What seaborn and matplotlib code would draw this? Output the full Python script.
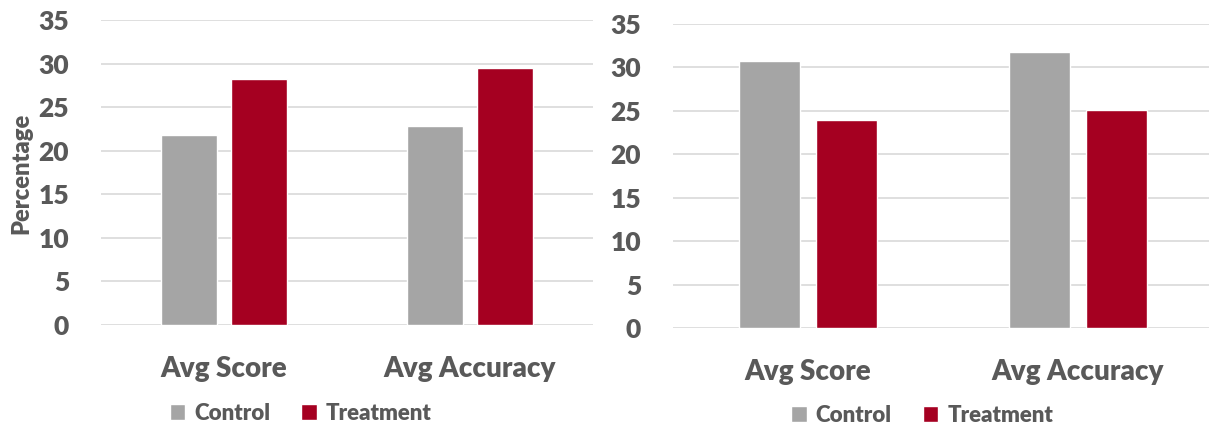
import pandas as pd
import matplotlib.pyplot as plt
import seaborn as sns

# Chart data
categories = ['Avg Score', 'Avg Accuracy']
groups = ['Control', 'Treatment']
left_control = [21.8, 22.8]
left_treatment = [28.2, 29.5]
right_control = [30.7, 31.8]
right_treatment = [23.9, 25.1]
y_ticks = [0, 5, 10, 15, 20, 25, 30, 35]

palette = {'Control': '#a5a5a5', 'Treatment': '#a50021'}
text_color = '#595959'
font_name = 'Lato'
weight = 'heavy'


def make_frame(control, treatment):
    rows = []
    for cat, c, t in zip(categories, control, treatment):
        rows.append({'Category': cat, 'Group': 'Control', 'Value': c})
        rows.append({'Category': cat, 'Group': 'Treatment', 'Value': t})
    return pd.DataFrame(rows)


sns.set_theme(style='white')
plt.rcParams['font.family'] = [font_name, 'DejaVu Sans']

W, H = 1209, 426
fig = plt.figure(figsize=(W / 100, H / 100), dpi=100)


def px_axes(left, top_zero, top_max, right):
    # left/right x in px, y for value 0 and value 35 in px from top
    return fig.add_axes([left / W, 1 - top_zero / H, (right - left) / W, (top_zero - top_max) / H])


ax1 = px_axes(101, 325, 20, 593)
ax2 = px_axes(673, 328, 24, 1209)

panels = [
    (ax1, make_frame(left_control, left_treatment), (-0.5, 1.5), 0.406, -0.29),
    (ax2, make_frame(right_control, right_treatment), (-0.5, 1.485), 0.465, -0.287),
]

for ax, df, xlim, legend_x, legend_y in panels:
    sns.barplot(data=df, x='Category', y='Value', hue='Group', hue_order=groups,
                palette=palette, width=0.57, gap=0.2, saturation=1,
                ax=ax, zorder=3)
    ax.set_ylim(0, 35)
    ax.set_xlim(*xlim)
    ax.set_yticks(y_ticks)
    ax.yaxis.grid(True, color='#d9d9d9', linewidth=1.2, zorder=0)
    ax.set_axisbelow(True)
    for s in ax.spines.values():
        s.set_visible(False)
    ax.tick_params(axis='y', length=0, pad=23, labelsize=19, labelcolor=text_color)
    ax.tick_params(axis='x', length=0, pad=22, labelsize=20, labelcolor=text_color)
    for lab in ax.get_yticklabels() + ax.get_xticklabels():
        lab.set_fontweight(weight)
    ax.set_xlabel('')
    ax.set_ylabel('')
    handles, labels = ax.get_legend_handles_labels()
    ax.legend(handles, labels, loc='center', bbox_to_anchor=(legend_x, legend_y),
              ncol=2, frameon=False, handlelength=0.7, handleheight=0.7,
              handletextpad=0.4, columnspacing=1.4,
              prop={'family': font_name, 'weight': weight, 'size': 16},
              labelcolor=text_color)

ax1.set_ylabel('Percentage', fontsize=17, fontweight=weight, color=text_color)
ax1.yaxis.set_label_coords(-0.14, 0.498)

fig.savefig('out.png', dpi=100)
